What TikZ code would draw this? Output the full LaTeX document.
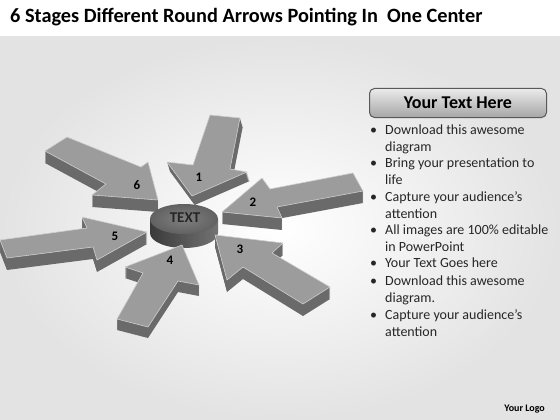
\documentclass[tikz,border=0pt]{standalone}
\usepackage{fontspec}
\setmainfont{Carlito}
\definecolor{arrowtop}{HTML}{9C9C9C}
\definecolor{arrowside}{HTML}{6A6A6A}
\definecolor{arrowedge}{HTML}{CFCFCF}
\definecolor{cyltop}{HTML}{6C6C6C}
\definecolor{cylside}{HTML}{3A3A3A}
\definecolor{bodytext}{HTML}{262626}
% one extruded block arrow: #1 outline, #2 sideways lean of the depth, #3 depth
\newcommand{\blockArrow}[3]{%
  \foreach \d in {1,...,#3}{\fill[arrow side, shift={({#2*\d},\d)}] #1 -- cycle;}
  \fill[arrow top] #1 -- cycle;
  \draw[arrow edge] #1 -- cycle;
}

\begin{document}
\begin{tikzpicture}[x=1pt,y=-1pt]
  \tikzset{arrow top/.style={fill=arrowtop},
           arrow side/.style={fill=arrowside},
           arrow edge/.style={draw=arrowedge, line width=0.6pt, line join=round},
           stage num/.style={font=\bfseries\fontsize{13}{13}\selectfont, text=black},
           bullet item/.style={anchor=north west, align=left, text=bodytext,
                               font=\fontsize{14}{16.8}\selectfont, inner sep=0pt}}
  \useasboundingbox (0,0) rectangle (560,420);
  % background
  \fill[white] (0,0) rectangle (560,420);
  \shade[inner color=white, outer color=black!11] (0,37) rectangle (560,420);
  \node[anchor=base west, inner sep=0pt, font=\bfseries\fontsize{20.3}{20}\selectfont] (title)
    at (10,23) {6 Stages Different Round Arrows Pointing In\ \ One Center};

  % back arrows
  \blockArrow{(210,115) -- (240,118) -- (230,169) -- (247,172) -- (192,196) -- (167,162) -- (193,165)}{0.3}{9}
  \blockArrow{(353,173) -- (363,191) -- (277,207) -- (282,218) -- (222,212) -- (262,178) -- (270,189)}{0}{12}
  \blockArrow{(67,137) -- (141,167) -- (148,162) -- (158,200) -- (92,195) -- (106,184) -- (45,151)}{0}{12}

  % center disc
  \shade[left color=cylside, right color=black!55] (150,219) -- (150,233)
    arc[start angle=180, end angle=0, x radius=34, y radius=15] -- (218,219) -- cycle;
  \shade[inner color=black!50, outer color=cyltop!90!black] (184,219) ellipse[x radius=34, y radius=15];
  \node[font=\bfseries\fontsize{15}{15}\selectfont, text=black!85] (center) at (185,218) {TEXT};

  % front arrows
  \blockArrow{(215,235) -- (283,243) -- (272,253) -- (330,287) -- (303,304) -- (243,267) -- (227,280)}{0}{12}
  \blockArrow{(182,245) -- (199,285) -- (178,281) -- (148,327) -- (117,319) -- (143,273) -- (125,267)}{0}{11}
  \blockArrow{(147,232) -- (97,260) -- (93,247) -- (7,258) -- (0,240) -- (87,228) -- (82,217)}{0}{12}

  \node[stage num] (n1) at (199,177) {1};
  \node[stage num] (n2) at (253,202) {2};
  \node[stage num] (n3) at (240,249) {3};
  \node[stage num] (n4) at (170,260) {4};
  \node[stage num] (n5) at (115,236) {5};
  \node[stage num] (n6) at (137,185) {6};

  % text panel
  \node[draw=black!65, line width=1pt, rounded corners=5pt, top color=black!8, bottom color=black!35,
        minimum width=177pt, minimum height=29pt, font=\bfseries\fontsize{18}{18}\selectfont] (head)
    at (458,103) {Your Text Here};
  \foreach \y/\t in {134/{Download this awesome\\diagram},
                     167/{Bring your presentation to\\life},
                     201/{Capture your audience’s\\attention},
                     234/{All images are 100\% editable\\in PowerPoint},
                     267/{Your Text Goes here},
                     285/{Download this awesome\\diagram.},
                     319/{Capture your audience’s\\attention}}{
    \node[bullet item] at (370,\y-11.76) {\strut•};
    \node[bullet item] at (385,\y-11.76) {\strut\t};
  }
  \node[anchor=base east, inner sep=0pt, font=\bfseries\fontsize{10}{10}\selectfont] (logo)
    at (545,411) {Your Logo};
\end{tikzpicture}
\end{document}
